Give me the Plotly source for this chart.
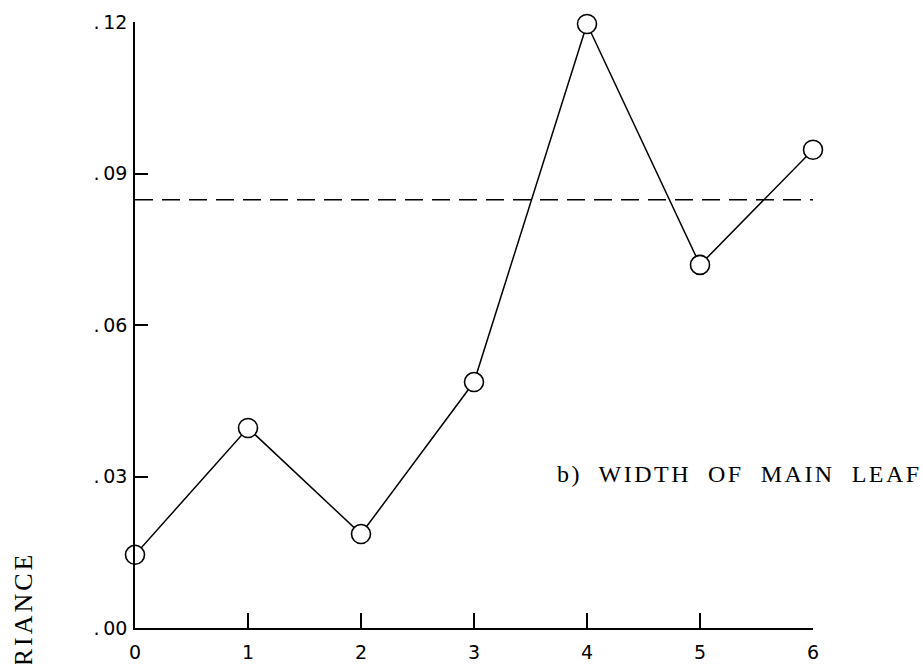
import plotly.graph_objects as go

# Data
generations = [0, 1, 2, 3, 4, 5, 6]
variance = [0.0145, 0.0396, 0.0186, 0.0487, 0.1196, 0.0719, 0.0947]
mean_level = 0.0848

x_tick_vals = [0, 1, 2, 3, 4, 5, 6]
x_tick_text = ["0", "1", "2", "3", "4", "5", "6"]
y_tick_vals = [0.0, 0.03, 0.06, 0.09, 0.12]
y_tick_text = [".\u200900", ".\u200903", ".\u200906", ".\u200909", ".\u200912"]

label_text = "b)  WIDTH  OF  MAIN  LEAF"
y_title = "VARIANCE"

fig = go.Figure()

fig.add_shape(type="line", xref="x", yref="y",
              x0=generations[0], x1=generations[-1], y0=mean_level, y1=mean_level,
              line=dict(color="black", width=1.5, dash="18px,9px"))

fig.add_trace(go.Scatter(
    x=generations, y=variance, mode="lines+markers",
    line=dict(color="black", width=1.5),
    marker=dict(symbol="circle", size=19, color="white",
                line=dict(color="black", width=1.6)),
    cliponaxis=False, showlegend=False,
))

tick_font = dict(family="DejaVu Sans, sans-serif", size=19, color="black")

fig.update_xaxes(
    range=[0, 6], tickvals=x_tick_vals, ticktext=x_tick_text,
    ticks="inside", ticklen=15, tickwidth=1.5, tickcolor="black",
    showline=True, linecolor="black", linewidth=1.6,
    showgrid=False, zeroline=False, tickfont=tick_font,
    ticklabelstandoff=6, automargin=False,
)
fig.update_yaxes(
    range=[0, 0.12], tickvals=y_tick_vals, ticktext=y_tick_text,
    ticks="inside", ticklen=13, tickwidth=1.5, tickcolor="black",
    showline=True, linecolor="black", linewidth=1.6,
    showgrid=False, zeroline=False, tickfont=tick_font,
    ticklabelstandoff=2, automargin=False,
)

fig.add_annotation(
    text='<span style="letter-spacing:2.5px">' + label_text + '</span>',
    xref="paper", yref="paper",
    x=(555 - 135) / 678, y=(628 - 474) / 606, xanchor="left", yanchor="middle",
    showarrow=False,
    font=dict(family="Liberation Serif, serif", size=24, color="black"),
)

fig.add_annotation(
    text='<span style="letter-spacing:3px">' + y_title + '</span>',
    xref="paper", yref="paper", textangle=-90,
    x=(23 - 135) / 678, y=(628 - 550) / 606, xanchor="center", yanchor="top",
    showarrow=False,
    font=dict(family="Liberation Serif, serif", size=26, color="black"),
)

fig.update_layout(
    width=923, height=664,
    margin=dict(l=135, r=110, t=22, b=36, autoexpand=False),
    plot_bgcolor="white", paper_bgcolor="white",
)

fig.write_html("out.html")
